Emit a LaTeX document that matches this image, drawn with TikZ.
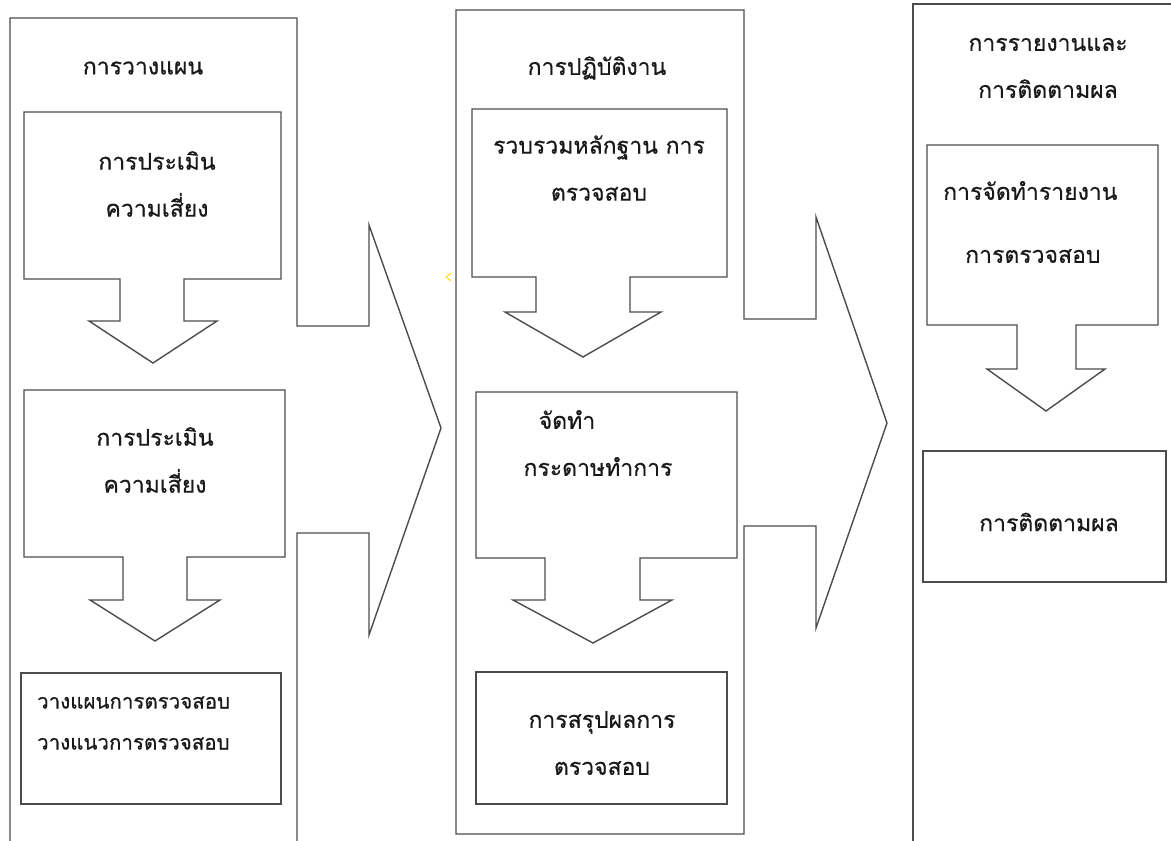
\documentclass[tikz,border=0pt]{standalone}
\usepackage{fontspec}
\newfontfamily\thaifont[Script=Thai, FakeBold=0.6]{Loma}

\begin{document}
\begin{tikzpicture}[x=1pt, y=-1pt,
      every node/.style={font=\thaifont\fontsize{23}{47}\selectfont, text=black!90,
        align=center, inner sep=0pt},
      outline/.style={draw=black!70, line width=1.4pt, line join=miter}]
  \useasboundingbox (0,0) rectangle (1171,841);
  \clip (0,0) rectangle (1171,841);

  % columns, with the big arrows
  \draw[outline] (10,860) -- (10,18) -- (297,18) -- (297,326) -- (369,326) -- (369,225)
    -- (441,428) -- (369,635) -- (369,533) -- (297,533) -- (297,860);
  \draw[outline] (456,10) -- (744,10) -- (744,319) -- (816,319) -- (816,217)
    -- (887,423) -- (816,628) -- (816,526) -- (744,526) -- (744,834) -- (456,834) -- cycle;
  \draw[outline] (913,860) -- (913,4) -- (1180,4);

  % planning
  \draw[outline] (120,279) -- (24,279) -- (24,112) -- (281,112) -- (281,279) -- (184,279)
    -- (184,321) -- (217,321) -- (153,363) -- (89,321) -- (120,321) -- cycle;
  \draw[outline] (123,557) -- (24,557) -- (24,390) -- (285,390) -- (285,557) -- (187,557)
    -- (187,600) -- (220,600) -- (155,641) -- (90,600) -- (123,600) -- cycle;
  \draw[outline] (21,673) rectangle (281,804);

  % fieldwork
  \draw[outline] (536,277) -- (472,277) -- (472,109) -- (727,109) -- (727,277) -- (630,277)
    -- (630,312) -- (661,312) -- (583,357) -- (505,312) -- (536,312) -- cycle;
  \draw[outline] (545,558) -- (476,558) -- (476,392) -- (737,392) -- (737,558) -- (640,558)
    -- (640,600) -- (672,600) -- (593,643) -- (513,600) -- (545,600) -- cycle;
  \draw[outline] (476,672) rectangle (727,804);

  % reporting
  \draw[outline] (1017,325) -- (927,325) -- (927,145) -- (1158,145) -- (1158,325) -- (1076,325)
    -- (1076,369) -- (1105,369) -- (1046,411) -- (987,369) -- (1017,369) -- cycle;
  \draw[outline] (923,451) rectangle (1166,582);

  \draw[yellow!80!orange, line width=1pt] (451,273) -- (446,277) -- (451,281);

  \node (plan) at (143,68) {การวางแผน};
  \node (risk1) at (157,184) {การประเมิน\\ความเสี่ยง};
  \node (risk2) at (155,460) {การประเมิน\\ความเสี่ยง};
  \node[anchor=west, align=left, font=\thaifont\fontsize{20.5}{41}\selectfont] (planbox) at (37,723)
    {วางแผนการตรวจสอบ\\วางแนวการตรวจสอบ};

  \node (work) at (597,68) {การปฏิบัติงาน};
  \node (evidence) at (599,168) {รวบรวมหลักฐาน การ\\ตรวจสอบ};
  \node (paper) at (598,443) {จัดทำ\hspace*{62pt}\\กระดาษทำการ};
  \node (summary) at (602,743) {การสรุปผลการ\\ตรวจสอบ};

  \node (report) at (1048,68) {การรายงานและ\\การติดตามผล};
  \node[anchor=west, align=left] (reportbox) at (943,222) {การจัดทำรายงาน\\[16pt]\hspace*{22pt}การตรวจสอบ};
  \node (follow) at (1049,522) {การติดตามผล};
\end{tikzpicture}
\end{document}
